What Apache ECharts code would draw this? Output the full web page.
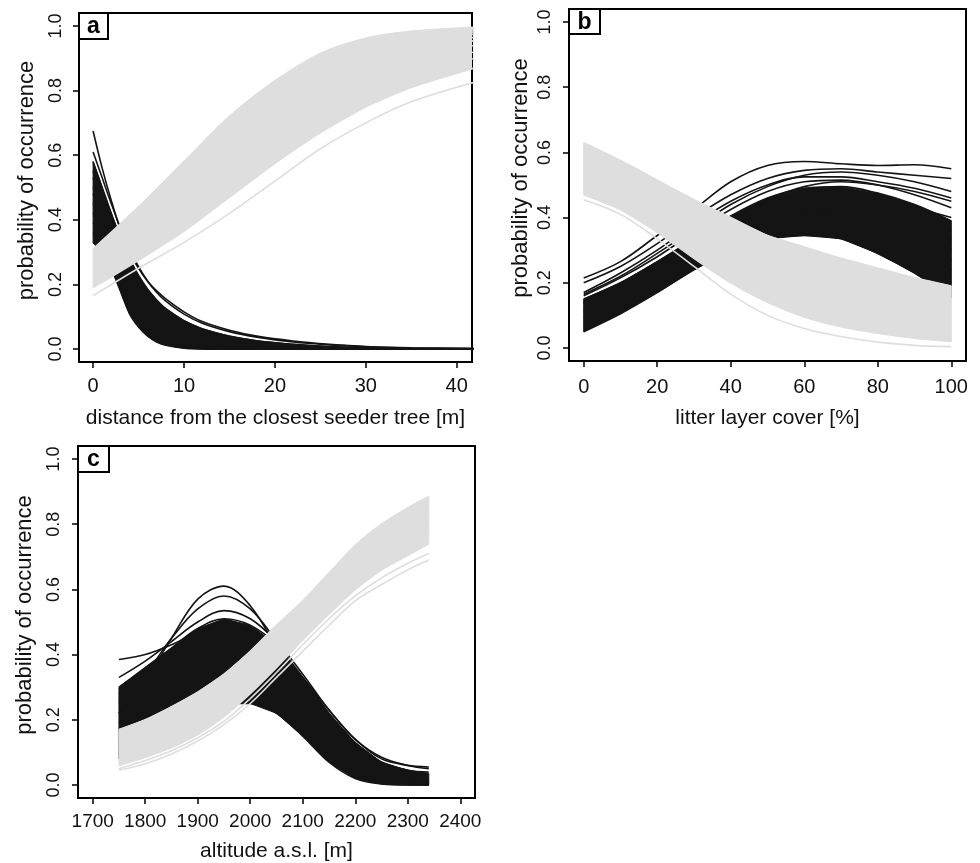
<!DOCTYPE html>
<html>
<head>
<meta charset="utf-8">
<title>probability of occurrence</title>
<script src="https://cdn.jsdelivr.net/npm/echarts@6/dist/echarts.min.js"></script>
<style>
  html, body { margin: 0; padding: 0; background: #fff; }
  #chart { width: 980px; height: 863px; }
</style>
</head>
<body>
<div id="chart"></div>
<script>
// tick labels
const yTicks = [0, 0.2, 0.4, 0.6, 0.8, 1.0];
const aXTicks = [0, 10, 20, 30, 40];
const bXTicks = [0, 20, 40, 60, 80, 100];
const cXTicks = [1700, 1800, 1900, 2000, 2100, 2200, 2300, 2400];

// panel a: distance from the closest seeder tree [m]
const aBlackX = [0, 1, 2, 3, 4, 5, 6, 7, 8, 10, 12, 15, 18, 22, 26, 30, 35, 42];
const aBlackCurves = [
  [0.675, 0.56, 0.46, 0.37, 0.30, 0.25, 0.21, 0.18, 0.155, 0.115, 0.085, 0.058, 0.040, 0.025, 0.015, 0.008, 0.004, 0.002],
  [0.61, 0.53, 0.45, 0.375, 0.31, 0.255, 0.21, 0.175, 0.148, 0.108, 0.08, 0.054, 0.037, 0.022, 0.013, 0.007, 0.003, 0.001],
  [0.58, 0.50, 0.42, 0.345, 0.28, 0.228, 0.185, 0.152, 0.125, 0.088, 0.063, 0.04, 0.026, 0.015, 0.008, 0.004, 0.002, 0.001],
  [0.55, 0.47, 0.39, 0.31, 0.245, 0.19, 0.148, 0.115, 0.09, 0.058, 0.038, 0.021, 0.012, 0.006, 0.003, 0.001, 0, 0],
  [0.53, 0.45, 0.37, 0.29, 0.22, 0.165, 0.123, 0.092, 0.068, 0.04, 0.024, 0.012, 0.006, 0.002, 0.001, 0, 0, 0],
  [0.50, 0.43, 0.35, 0.27, 0.20, 0.145, 0.105, 0.075, 0.053, 0.027, 0.014, 0.006, 0.003, 0.001, 0, 0, 0, 0],
  [0.48, 0.41, 0.33, 0.25, 0.18, 0.125, 0.085, 0.057, 0.038, 0.017, 0.008, 0.003, 0.001, 0, 0, 0, 0, 0],
  [0.45, 0.39, 0.31, 0.235, 0.165, 0.11, 0.072, 0.046, 0.029, 0.011, 0.004, 0.001, 0, 0, 0, 0, 0, 0],
  [0.42, 0.37, 0.30, 0.22, 0.15, 0.095, 0.06, 0.036, 0.021, 0.007, 0.002, 0, 0, 0, 0, 0, 0, 0],
  [0.39, 0.35, 0.285, 0.205, 0.135, 0.085, 0.052, 0.03, 0.017, 0.005, 0.001, 0, 0, 0, 0, 0, 0, 0],
  [0.36, 0.32, 0.265, 0.19, 0.12, 0.075, 0.045, 0.026, 0.015, 0.004, 0.001, 0, 0, 0, 0, 0, 0, 0],
  [0.33, 0.30, 0.25, 0.18, 0.11, 0.068, 0.04, 0.022, 0.012, 0.003, 0.001, 0, 0, 0, 0, 0, 0, 0]
];
const aGreyX = [0, 5, 10, 15, 20, 25, 30, 35, 42];
const aGreyCurves = [
  [0.31, 0.44, 0.58, 0.72, 0.83, 0.915, 0.962, 0.983, 0.996],
  [0.30, 0.42, 0.555, 0.695, 0.805, 0.895, 0.948, 0.975, 0.992],
  [0.29, 0.40, 0.53, 0.675, 0.785, 0.875, 0.935, 0.967, 0.988],
  [0.28, 0.385, 0.51, 0.65, 0.76, 0.85, 0.915, 0.955, 0.982],
  [0.27, 0.37, 0.49, 0.625, 0.735, 0.83, 0.90, 0.945, 0.975],
  [0.26, 0.355, 0.47, 0.60, 0.71, 0.805, 0.88, 0.93, 0.965],
  [0.25, 0.34, 0.45, 0.575, 0.685, 0.78, 0.86, 0.915, 0.955],
  [0.24, 0.325, 0.43, 0.55, 0.66, 0.755, 0.835, 0.895, 0.94],
  [0.225, 0.31, 0.41, 0.525, 0.635, 0.73, 0.81, 0.87, 0.92],
  [0.21, 0.295, 0.39, 0.50, 0.61, 0.705, 0.785, 0.845, 0.90],
  [0.19, 0.275, 0.365, 0.47, 0.575, 0.67, 0.75, 0.81, 0.87],
  [0.165, 0.25, 0.33, 0.42, 0.52, 0.62, 0.70, 0.765, 0.826]
];

// panel b: litter layer cover [%]
const bBlackX = [0, 10, 20, 30, 40, 50, 60, 70, 80, 90, 100];
const bBlackCurves = [
  [0.215, 0.265, 0.345, 0.425, 0.51, 0.56, 0.572, 0.565, 0.56, 0.562, 0.55],
  [0.20, 0.25, 0.32, 0.40, 0.47, 0.52, 0.545, 0.55, 0.54, 0.53, 0.52],
  [0.17, 0.23, 0.30, 0.38, 0.45, 0.50, 0.525, 0.525, 0.51, 0.49, 0.46],
  [0.165, 0.22, 0.29, 0.365, 0.44, 0.495, 0.53, 0.54, 0.53, 0.51, 0.48],
  [0.16, 0.215, 0.28, 0.355, 0.425, 0.48, 0.51, 0.515, 0.50, 0.47, 0.43],
  [0.15, 0.20, 0.265, 0.335, 0.405, 0.46, 0.49, 0.495, 0.475, 0.44, 0.39],
  [0.14, 0.195, 0.26, 0.33, 0.40, 0.455, 0.495, 0.51, 0.50, 0.48, 0.45],
  [0.135, 0.19, 0.25, 0.32, 0.39, 0.445, 0.475, 0.48, 0.46, 0.42, 0.36],
  [0.12, 0.175, 0.24, 0.31, 0.375, 0.43, 0.46, 0.46, 0.44, 0.39, 0.33],
  [0.115, 0.17, 0.235, 0.305, 0.37, 0.425, 0.455, 0.465, 0.455, 0.43, 0.40],
  [0.11, 0.165, 0.23, 0.30, 0.365, 0.415, 0.445, 0.445, 0.42, 0.37, 0.30],
  [0.095, 0.15, 0.215, 0.285, 0.35, 0.40, 0.425, 0.42, 0.39, 0.34, 0.27],
  [0.09, 0.145, 0.21, 0.28, 0.345, 0.395, 0.425, 0.43, 0.415, 0.38, 0.34],
  [0.08, 0.135, 0.20, 0.27, 0.335, 0.38, 0.40, 0.395, 0.36, 0.30, 0.24],
  [0.065, 0.12, 0.185, 0.255, 0.32, 0.36, 0.375, 0.365, 0.33, 0.27, 0.20],
  [0.05, 0.105, 0.17, 0.24, 0.30, 0.335, 0.345, 0.335, 0.29, 0.23, 0.155]
];
const bGreyX = [0, 10, 20, 30, 40, 50, 60, 70, 80, 90, 100];
const bGreyCurves = [
  [0.63, 0.575, 0.515, 0.455, 0.40, 0.345, 0.31, 0.275, 0.245, 0.215, 0.19],
  [0.61, 0.56, 0.50, 0.44, 0.385, 0.33, 0.29, 0.255, 0.225, 0.195, 0.17],
  [0.59, 0.545, 0.49, 0.43, 0.37, 0.315, 0.27, 0.235, 0.205, 0.175, 0.15],
  [0.575, 0.53, 0.475, 0.415, 0.355, 0.30, 0.255, 0.215, 0.185, 0.155, 0.13],
  [0.56, 0.515, 0.46, 0.40, 0.34, 0.285, 0.24, 0.20, 0.165, 0.135, 0.11],
  [0.545, 0.50, 0.445, 0.385, 0.325, 0.27, 0.22, 0.18, 0.145, 0.115, 0.09],
  [0.53, 0.485, 0.43, 0.37, 0.31, 0.25, 0.20, 0.16, 0.125, 0.095, 0.07],
  [0.515, 0.47, 0.415, 0.35, 0.285, 0.225, 0.175, 0.135, 0.10, 0.075, 0.055],
  [0.50, 0.455, 0.395, 0.33, 0.26, 0.20, 0.15, 0.11, 0.08, 0.055, 0.04],
  [0.485, 0.44, 0.375, 0.30, 0.23, 0.17, 0.12, 0.085, 0.06, 0.04, 0.03],
  [0.47, 0.425, 0.355, 0.275, 0.20, 0.14, 0.095, 0.065, 0.045, 0.03, 0.02],
  [0.455, 0.41, 0.335, 0.25, 0.165, 0.10, 0.06, 0.035, 0.018, 0.008, 0.004]
];

// panel c: altitude a.s.l. [m]
const cBlackX = [1750, 1800, 1850, 1900, 1950, 2000, 2050, 2100, 2150, 2200, 2250, 2300, 2340];
const cBlackCurves = [
  [0.22, 0.32, 0.45, 0.57, 0.61, 0.55, 0.42, 0.28, 0.16, 0.08, 0.04, 0.02, 0.015],
  [0.26, 0.34, 0.45, 0.54, 0.58, 0.54, 0.44, 0.32, 0.20, 0.12, 0.07, 0.045, 0.04],
  [0.385, 0.40, 0.43, 0.47, 0.49, 0.47, 0.42, 0.33, 0.23, 0.14, 0.08, 0.06, 0.055],
  [0.33, 0.38, 0.44, 0.50, 0.535, 0.51, 0.44, 0.34, 0.23, 0.14, 0.085, 0.06, 0.05],
  [0.30, 0.36, 0.42, 0.48, 0.51, 0.49, 0.43, 0.33, 0.22, 0.13, 0.07, 0.045, 0.035],
  [0.28, 0.34, 0.40, 0.46, 0.49, 0.475, 0.42, 0.32, 0.20, 0.11, 0.055, 0.03, 0.022],
  [0.25, 0.31, 0.38, 0.44, 0.47, 0.46, 0.40, 0.30, 0.18, 0.09, 0.04, 0.02, 0.013],
  [0.22, 0.29, 0.36, 0.42, 0.45, 0.44, 0.38, 0.28, 0.16, 0.075, 0.03, 0.012, 0.008],
  [0.19, 0.26, 0.33, 0.39, 0.42, 0.41, 0.36, 0.26, 0.14, 0.06, 0.02, 0.007, 0.004],
  [0.17, 0.23, 0.30, 0.36, 0.39, 0.38, 0.33, 0.24, 0.12, 0.045, 0.013, 0.004, 0.002],
  [0.14, 0.20, 0.26, 0.32, 0.35, 0.34, 0.29, 0.20, 0.10, 0.035, 0.008, 0.002, 0.001],
  [0.11, 0.16, 0.22, 0.27, 0.30, 0.29, 0.25, 0.17, 0.08, 0.025, 0.005, 0.001, 0],
  [0.08, 0.12, 0.17, 0.22, 0.25, 0.25, 0.22, 0.15, 0.07, 0.02, 0.003, 0, 0]
];
const cGreyX = [1750, 1800, 1850, 1900, 1950, 2000, 2050, 2100, 2150, 2200, 2250, 2300, 2340];
const cGreyCurves = [
  [0.17, 0.20, 0.24, 0.285, 0.34, 0.41, 0.49, 0.565, 0.65, 0.735, 0.80, 0.85, 0.885],
  [0.15, 0.185, 0.225, 0.275, 0.33, 0.40, 0.48, 0.555, 0.64, 0.72, 0.785, 0.835, 0.87],
  [0.135, 0.17, 0.21, 0.26, 0.315, 0.385, 0.465, 0.545, 0.63, 0.705, 0.77, 0.82, 0.855],
  [0.12, 0.155, 0.195, 0.245, 0.30, 0.37, 0.45, 0.535, 0.615, 0.69, 0.755, 0.805, 0.84],
  [0.11, 0.14, 0.18, 0.23, 0.285, 0.355, 0.435, 0.52, 0.60, 0.675, 0.74, 0.79, 0.825],
  [0.10, 0.13, 0.17, 0.215, 0.27, 0.34, 0.42, 0.505, 0.585, 0.66, 0.725, 0.775, 0.81],
  [0.09, 0.12, 0.155, 0.20, 0.255, 0.325, 0.405, 0.49, 0.57, 0.645, 0.71, 0.76, 0.795],
  [0.08, 0.105, 0.14, 0.185, 0.24, 0.31, 0.39, 0.475, 0.555, 0.63, 0.695, 0.745, 0.78],
  [0.07, 0.095, 0.13, 0.17, 0.225, 0.295, 0.375, 0.46, 0.54, 0.615, 0.675, 0.725, 0.76],
  [0.06, 0.085, 0.115, 0.155, 0.21, 0.28, 0.36, 0.445, 0.525, 0.60, 0.66, 0.705, 0.74],
  [0.05, 0.075, 0.105, 0.145, 0.195, 0.265, 0.345, 0.43, 0.51, 0.58, 0.635, 0.68, 0.71],
  [0.045, 0.065, 0.095, 0.135, 0.185, 0.25, 0.33, 0.41, 0.49, 0.565, 0.615, 0.66, 0.69]
];

const FONT = '"Liberation Sans", Arial, Helvetica, sans-serif';
const BLACK = '#141414';
const GREY = '#dedede';
const TEXT = '#111';

function lines(gi, xs, curves, color, z) {
  return curves.map(ys => ({
    type: 'line', xAxisIndex: gi, yAxisIndex: gi, z: z,
    data: xs.map((x, i) => [x, ys[i]]),
    smooth: 0.35, symbol: 'none', silent: true,
    lineStyle: { color: color, width: 1.6 }
  }));
}

// filled polygon between two of the curves (the dense bulk of the ensemble)
function band(gi, xs, lo, hi, color, z) {
  return {
    type: 'custom', coordinateSystem: 'cartesian2d', xAxisIndex: gi, yAxisIndex: gi, z: z,
    silent: true, clip: true,
    data: [[xs[0], lo[0]]],
    renderItem: (params, api) => {
      const top = xs.map((x, i) => api.coord([x, hi[i]]));
      const bottom = xs.map((x, i) => api.coord([x, lo[i]])).reverse();
      return {
        type: 'polygon',
        shape: { points: top.concat(bottom) },
        style: { fill: color, stroke: color, lineWidth: 1 }
      };
    }
  };
}

function xAx(gi, min, max, ticks, name, fs, margin, gap) {
  return {
    gridIndex: gi, type: 'value', min: min, max: max,
    axisLine: { show: false, onZero: false },
    axisTick: { show: true, length: 6, customValues: ticks, lineStyle: { color: '#000', width: 1.5 } },
    axisLabel: { customValues: ticks, fontSize: fs, fontFamily: FONT, color: TEXT, margin: margin,
      formatter: v => String(v) },
    splitLine: { show: false },
    name: name, nameLocation: 'middle', nameGap: gap,
    nameTextStyle: { fontSize: 21, fontFamily: FONT, color: TEXT }
  };
}

function yAx(gi, margin, gap) {
  return {
    gridIndex: gi, type: 'value', min: -0.04, max: 1.04,
    axisLine: { show: false, onZero: false },
    axisTick: { show: true, length: 6, customValues: yTicks, lineStyle: { color: '#000', width: 1.5 } },
    axisLabel: {
      customValues: yTicks, rotate: 90, fontSize: 18, fontFamily: FONT, color: TEXT, margin: margin,
      formatter: v => v.toFixed(1)
    },
    splitLine: { show: false },
    name: 'probability of occurrence', nameLocation: 'middle', nameGap: gap,
    nameTextStyle: { fontSize: 22, fontFamily: FONT, color: TEXT, padding: [0, 0, 0, 14] }
  };
}

function tag(x, y, w, h, letter) {
  return [
    { type: 'rect', z: 100, shape: { x: x, y: y, width: w, height: h },
      style: { fill: '#fff', stroke: '#000', lineWidth: 2 } },
    { type: 'text', z: 101, x: x + w / 2, y: y + h / 2 + 1,
      style: { text: letter, fill: '#000', font: 'bold 23px ' + FONT, align: 'center', verticalAlign: 'middle' } }
  ];
}

const gridStyle = { show: true, borderColor: '#000', borderWidth: 2, backgroundColor: 'transparent' };

const option = {
  animation: false,
  backgroundColor: '#fff',
  grid: [
    Object.assign({ left: 79, top: 13, width: 393, height: 349 }, gridStyle),
    Object.assign({ left: 569, top: 9, width: 397, height: 352 }, gridStyle),
    Object.assign({ left: 78, top: 446, width: 397, height: 353 }, gridStyle)
  ],
  xAxis: [
    xAx(0, -1.55, 41.68, aXTicks, 'distance from the closest seeder tree [m]', 20, 14, 46),
    xAx(1, -4, 104, bXTicks, 'litter layer cover [%]', 20, 16, 47),
    xAx(2, 1672, 2428, cXTicks, 'altitude a.s.l. [m]', 19, 14, 43)
  ],
  yAxis: [
    yAx(0, 14, 41),
    yAx(1, 15, 37),
    yAx(2, 15, 42)
  ],
  series: [].concat(
    band(0, aBlackX, aBlackCurves[11], aBlackCurves[2], BLACK, 2),
    lines(0, aBlackX, aBlackCurves, BLACK, 3),
    band(0, aGreyX, aGreyCurves[10], aGreyCurves[0], GREY, 4),
    lines(0, aGreyX, aGreyCurves, GREY, 5),
    band(1, bBlackX, bBlackCurves[15], bBlackCurves[5], BLACK, 2),
    lines(1, bBlackX, bBlackCurves, BLACK, 3),
    band(1, bGreyX, bGreyCurves[10], bGreyCurves[0], GREY, 4),
    lines(1, bGreyX, bGreyCurves, GREY, 5),
    band(2, cBlackX, cBlackCurves[12], cBlackCurves[4], BLACK, 2),
    lines(2, cBlackX, cBlackCurves, BLACK, 3),
    band(2, cGreyX, cGreyCurves[9], cGreyCurves[0], GREY, 4),
    lines(2, cGreyX, cGreyCurves, GREY, 5)
  ),
  graphic: [].concat(
    tag(79, 13, 29, 26, 'a'),
    tag(569, 9, 31, 25, 'b'),
    tag(78, 446, 31, 26, 'c')
  )
};

const chart = echarts.init(document.getElementById('chart'));
chart.setOption(option);
window.addEventListener('resize', () => chart.resize());
</script>
</body>
</html>
